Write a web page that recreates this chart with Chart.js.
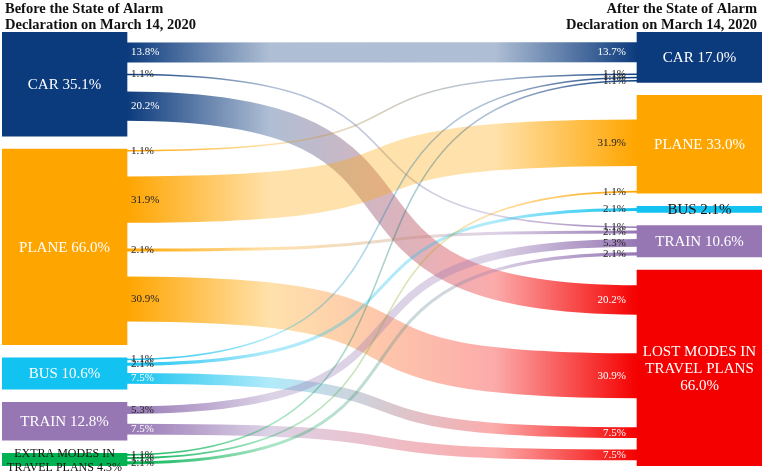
<!DOCTYPE html>
<html>
<head>
<meta charset="utf-8">
<script src="https://cdn.jsdelivr.net/npm/chart.js@4.4.1/dist/chart.umd.min.js"></script>
<style>
  html, body { margin: 0; padding: 0; background: #fff; }
  #wrap { width: 764px; height: 474px; }
</style>
</head>
<body>
<div id="wrap"><canvas id="sankey"></canvas></div>
<script>
// nodes, before (left) and after (right) the declaration
const leftNodes = ['CAR', 'PLANE', 'BUS', 'TRAIN', 'EXTRA MODES IN\nTRAVEL PLANS'];
const leftShares = [35.1, 66.0, 10.6, 12.8, 4.3];
const rightNodes = ['CAR', 'PLANE', 'BUS', 'TRAIN', 'LOST MODES IN\nTRAVEL PLANS\n'];
const rightShares = [17.0, 33.0, 2.1, 10.6, 66.0];

// flows: index into leftNodes -> index into rightNodes
const flowFrom = [0, 0, 0, 1, 1, 1, 1, 2, 2, 2, 3, 3, 4, 4, 4];
const flowTo = [0, 3, 4, 0, 1, 3, 4, 0, 2, 4, 3, 4, 0, 1, 3];
const flowBefore = [13.8, 1.1, 20.2, 1.1, 31.9, 2.1, 30.9, 1.1, 2.1, 7.5, 5.3, 7.5, 1.1, 1.1, 2.1];
const flowAfter = [13.7, 1.1, 20.2, 1.1, 31.9, 2.1, 30.9, 1.1, 2.1, 7.5, 5.3, 7.5, 1.1, 1.1, 2.1];

const titles = [
  ['Before the State of Alarm', 'Declaration on March 14, 2020'],
  ['After the State of Alarm', 'Declaration on March 14, 2020'],
];

const leftColors = ['#0c3b7d', '#ffa500', '#12c2f0', '#9677b4', '#00b251'];
const rightColors = ['#0c3b7d', '#ffa500', '#12c2f0', '#9677b4', '#f50000'];

const GAP = 4.4;        // gap between nodes, in share units
const X_MAX = 760;
const NODE_W = 125;
const RIBBON = 0.49;    // ribbons are drawn thinner than the nodes
const CURVE = 0.72;
const SERIF = '"Liberation Serif", "DejaVu Serif", serif';

function stackTops(shares) {
  let t = 0;
  return shares.map(s => {
    const top = t;
    t += s + GAP;
    return top;
  });
}

const leftTops = stackTops(leftShares);
const rightTops = stackTops(rightShares);
const yMax = leftShares.reduce((a, b) => a + b, 0) + GAP * (leftShares.length - 1);

const srcOff = leftNodes.map(() => 0);
const tgtOff = rightNodes.map(() => 0);
const flows = flowFrom.map((f, i) => {
  const t = flowTo[i];
  const y0 = leftTops[f] + srcOff[f] + flowBefore[i] / 2;
  const y1 = rightTops[t] + tgtOff[t] + flowAfter[i] / 2;
  srcOff[f] += flowBefore[i];
  tgtOff[t] += flowAfter[i];
  return { from: f, to: t, y0, y1, before: flowBefore[i], after: flowAfter[i] };
});

function hexToRgb(hex) {
  const n = parseInt(hex.slice(1), 16);
  return [(n >> 16) & 255, (n >> 8) & 255, n & 255];
}

function rgba(hex, a) {
  const [r, g, b] = hexToRgb(hex);
  return `rgba(${r},${g},${b},${a})`;
}

function isLight(hex) {
  const [r, g, b] = hexToRgb(hex);
  return (0.299 * r + 0.587 * g + 0.114 * b) / 255 > 0.6;
}

function fmt(v) {
  return v.toFixed(1) + '%';
}

function nodeLabel(name, share) {
  return (name.endsWith('\n') ? name : name + ' ') + fmt(share);
}

const sankeyPlugin = {
  id: 'sankeyFlows',
  beforeDatasetsDraw(chart) {
    const { ctx, scales: { x, y } } = chart;
    const unit = Math.abs(y.getPixelForValue(1) - y.getPixelForValue(0));
    const xa = x.getPixelForValue(NODE_W);
    const xb = x.getPixelForValue(X_MAX - NODE_W);
    const dx = xb - xa;
    ctx.save();
    ctx.lineCap = 'butt';
    flows.forEach(f => {
      const ya = y.getPixelForValue(f.y0);
      const yb = y.getPixelForValue(f.y1);
      const src = leftColors[f.from];
      const tgt = rightColors[f.to];
      const g = ctx.createLinearGradient(xa, 0, xb, 0);
      g.addColorStop(0, rgba(src, 1));
      g.addColorStop(0.28, rgba(src, 0.33));
      g.addColorStop(0.72, rgba(tgt, 0.33));
      g.addColorStop(1, rgba(tgt, 1));
      ctx.strokeStyle = g;
      ctx.lineWidth = Math.max(1.2, f.before * RIBBON * unit);
      ctx.beginPath();
      ctx.moveTo(xa - 1, ya);
      ctx.bezierCurveTo(xa + CURVE * dx, ya, xb - CURVE * dx, yb, xb + 1, yb);
      ctx.stroke();
    });
    ctx.restore();
  },
  afterDatasetsDraw(chart) {
    const { ctx, scales: { x, y } } = chart;
    const xa = x.getPixelForValue(NODE_W);
    const xb = x.getPixelForValue(X_MAX - NODE_W);
    ctx.save();

    // flow labels
    ctx.font = `11px ${SERIF}`;
    ctx.textBaseline = 'middle';
    flows.forEach(f => {
      const src = leftColors[f.from];
      const tgt = rightColors[f.to];
      ctx.textAlign = 'left';
      ctx.fillStyle = f.before >= 7 && !isLight(src) ? '#fff' : '#222';
      ctx.fillText(fmt(f.before), xa + 4, y.getPixelForValue(f.y0));
      ctx.textAlign = 'right';
      ctx.fillStyle = f.after >= 7 && !isLight(tgt) ? '#fff' : '#222';
      ctx.fillText(fmt(f.after), xb - 11, y.getPixelForValue(f.y1));
    });

    // node labels
    const drawNodes = (names, shares, tops, colors, cx) => {
      names.forEach((name, i) => {
        const lines = nodeLabel(name, shares[i]).split('\n');
        const h = Math.abs(y.getPixelForValue(tops[i] + shares[i]) - y.getPixelForValue(tops[i]));
        const size = lines.length > 1 && h < 20 ? 12 : 15;
        const lh = size + 2;
        const block = lines.length * lh;
        ctx.font = `${size}px ${SERIF}`;
        ctx.textAlign = 'center';
        ctx.fillStyle = block > h + 4 ? '#111' : '#fff';
        const cy = y.getPixelForValue(tops[i] + shares[i] / 2);
        lines.forEach((ln, j) => {
          ctx.fillText(ln, cx, cy + (j - (lines.length - 1) / 2) * lh + 1);
        });
      });
    };
    drawNodes(leftNodes, leftShares, leftTops, leftColors, x.getPixelForValue(NODE_W / 2));
    drawNodes(rightNodes, rightShares, rightTops, rightColors, x.getPixelForValue(X_MAX - NODE_W / 2));

    // column titles
    ctx.font = `bold 14.5px ${SERIF}`;
    ctx.fillStyle = '#111';
    ctx.textBaseline = 'alphabetic';
    ctx.textAlign = 'left';
    titles[0].forEach((t, j) => ctx.fillText(t, 5, 13 + j * 15.5));
    ctx.textAlign = 'right';
    titles[1].forEach((t, j) => ctx.fillText(t, 757, 13 + j * 15.5));
    ctx.restore();
  },
};

new Chart(document.getElementById('sankey'), {
  type: 'bar',
  data: {
    datasets: [
      {
        label: 'Before',
        data: leftShares.map((s, i) => ({ x: NODE_W / 2, y: [leftTops[i], leftTops[i] + s] })),
        backgroundColor: leftColors,
      },
      {
        label: 'After',
        data: rightShares.map((s, i) => ({ x: X_MAX - NODE_W / 2, y: [rightTops[i], rightTops[i] + s] })),
        backgroundColor: rightColors,
      },
    ],
  },
  options: {
    responsive: true,
    maintainAspectRatio: false,
    animation: false,
    devicePixelRatio: 1,
    layout: { padding: { left: 2, right: 2, top: 32, bottom: 8 } },
    datasets: { bar: { grouped: false, barThickness: NODE_W, borderWidth: 0 } },
    scales: {
      x: { type: 'linear', min: 0, max: X_MAX, offset: false, display: false },
      y: { type: 'linear', min: 0, max: yMax, reverse: true, display: false },
    },
    plugins: {
      legend: { display: false },
      tooltip: { enabled: false },
    },
  },
  plugins: [sankeyPlugin],
});
</script>
</body>
</html>
